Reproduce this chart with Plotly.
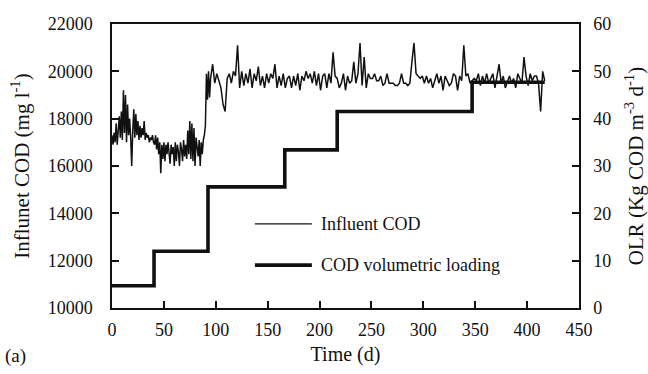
import plotly.graph_objects as go

# Influent COD (mg/l): daily for days 0-95, every 2 days afterwards
cod_days = list(range(0, 96)) + list(range(97, 418, 2))
cod_values = [
    17300, 16900, 17400, 17000, 17800, 16900, 17500, 18100, 17200, 18300,
    17100, 19200, 17400, 19000, 17000, 18600, 17300, 18000, 17200, 16000,
    17500, 18400, 17200, 18200, 17300, 17900, 17100, 17700, 17200, 17600,
    17300, 17900, 17100, 17400, 17200, 17300, 17000, 17200, 17100, 17300,
    17000, 16900, 17300, 16700, 17200, 16500, 17000, 15700, 16900, 16300,
    17000, 16200, 16900, 16500, 17000, 16600, 16100, 16900, 16500, 16800,
    16000, 17000, 16200, 16900, 16600, 16000, 17000, 16700, 16200, 17100,
    16400, 16900, 16300, 17500, 16500, 17900, 16300, 17800, 16200, 17600,
    16000, 17200, 16700, 16400, 17100, 16000, 17000, 16500, 17100, 17300,
    17700, 19900, 18800, 20000, 18900, 19700,
    20300, 19500, 19900, 19600, 19300, 18600, 18300, 19700, 19900, 19500,
    20000, 19800, 21100, 19300, 20000, 19400, 19900, 19500, 20100, 19300,
    19900, 19600, 20200, 19400, 19800, 19300, 19900, 19500, 19900, 19700,
    20300, 19300, 19800, 19400, 19900, 19300, 19700, 19800, 19300, 19800,
    19400, 19900, 19200, 19800, 19600, 20000, 19700, 19900, 19500, 20000,
    19400, 19900, 19200, 19800, 19900, 19300, 19900, 19500, 20800, 19800,
    19700, 19300, 19500, 19900, 19200, 19800, 19500, 19600, 20400, 19500,
    19900, 21200, 19400, 20600, 19300, 19900, 19700, 19700, 19900, 19600,
    19600, 19800, 19400, 19500, 19900, 19500, 19500, 19500, 19400, 19400,
    19500, 19900, 19500, 19500, 19400, 19500, 20400, 21200, 19900, 19800,
    19700, 19800, 19500, 19800, 19500, 19700, 19300, 19600, 19900, 19500,
    19800, 19200, 19800, 19600, 19400, 19500, 19900, 19800, 19200, 19800,
    19600, 21100, 19800, 19900, 19500, 19600, 19700, 19600, 19900, 19400,
    19800, 19500, 19900, 19500, 19700, 19900, 19300, 19800, 20300, 19500,
    19800, 19300, 19600, 19800, 19500, 19700, 19300, 19900, 19700, 19500,
    20600, 19800, 19400, 19900, 19600, 19800, 19800, 19500, 18300, 20000,
    19600,
]

# COD volumetric loading (OLR, kg COD m-3 d-1), step changes
olr_days = [0, 40.5, 92.5, 166.5, 217, 343, 347, 417]
olr_values = [4.7, 12.0, 25.6, 33.4, 41.5, 41.5, 47.7, 47.7]

x_ticks = [0, 50, 100, 150, 200, 250, 300, 350, 400, 450]
left_ticks = [10000, 12000, 14000, 16000, 18000, 20000, 22000]
right_ticks = [0, 10, 20, 30, 40, 50, 60]

FONT = "Liberation Serif, Times New Roman, serif"
BLACK = "#111111"

fig = go.Figure()
fig.add_trace(go.Scatter(
    x=cod_days, y=cod_values, mode="lines", name="Influent COD",
    line=dict(color=BLACK, width=1.5), yaxis="y",
))
fig.add_trace(go.Scatter(
    x=olr_days, y=olr_values, mode="lines", name="COD volumetric loading",
    line=dict(color=BLACK, width=3.6, shape="hv"), yaxis="y2",
))

# Manual legend (line samples + labels)
legend_items = [("Influent COD", 1.3, 0.296), ("COD volumetric loading", 3.6, 0.151)]
for label, w, yy in legend_items:
    fig.add_shape(type="line", xref="paper", yref="paper",
                  x0=0.306, x1=0.428, y0=yy, y1=yy,
                  line=dict(color=BLACK, width=w))
    fig.add_annotation(xref="paper", yref="paper", x=0.443, y=yy, text=label,
                       showarrow=False, xanchor="left", yanchor="middle",
                       font=dict(family=FONT, size=18, color=BLACK))

fig.add_annotation(xref="paper", yref="paper", x=-0.233, y=-0.17, text="(a)",
                   showarrow=False, xanchor="left", yanchor="middle",
                   font=dict(family=FONT, size=19, color=BLACK))

axis_common = dict(
    showgrid=False, zeroline=False, showline=True, linecolor=BLACK, linewidth=1.5,
    ticks="inside", ticklen=7, tickwidth=1.5, tickcolor=BLACK,
    tickfont=dict(family=FONT, size=18, color=BLACK), tickformat="d",
    automargin=False,
)

fig.update_layout(
    width=648, height=374,
    margin=dict(l=112, r=69, t=24, b=66),
    paper_bgcolor="white", plot_bgcolor="white",
    showlegend=False,
    font=dict(family=FONT, color=BLACK),
    xaxis=dict(
        range=[0, 450], tickvals=x_ticks, mirror=True,
        title=dict(text="Time (d)", font=dict(family=FONT, size=20, color=BLACK), standoff=8),
        ticklabelstandoff=5,
        **axis_common,
    ),
    yaxis=dict(
        range=[10000, 22000], tickvals=left_ticks,
        title=dict(text="Influnet COD (mg l<sup>-1</sup>)", font=dict(family=FONT, size=21, color=BLACK), standoff=12),
        ticklabelstandoff=14,
        **axis_common,
    ),
    yaxis2=dict(
        range=[0, 60], tickvals=right_ticks, overlaying="y", side="right",
        title=dict(text="OLR (Kg COD m<sup>-3</sup> d<sup>-1</sup>)", font=dict(family=FONT, size=21, color=BLACK), standoff=18),
        ticklabelstandoff=9,
        **axis_common,
    ),
)

fig.write_html("out.html")
